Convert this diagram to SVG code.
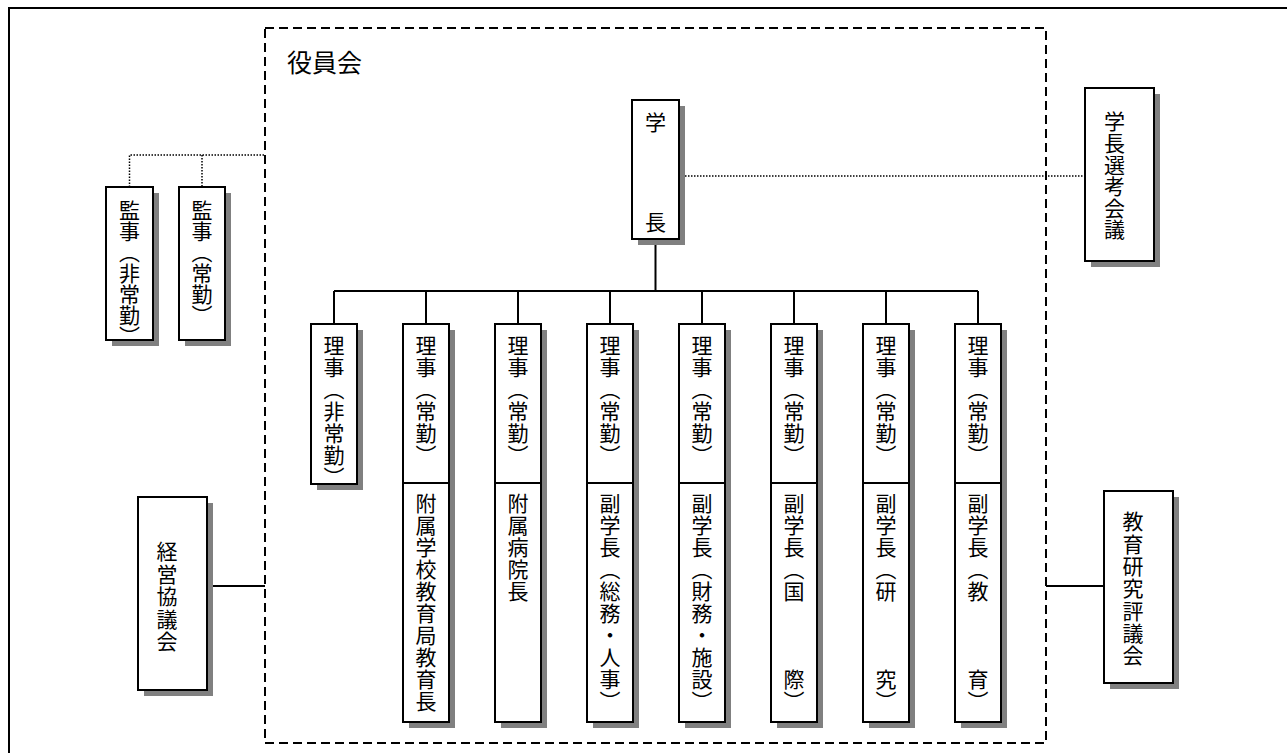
<svg xmlns="http://www.w3.org/2000/svg" width="1287" height="753" viewBox="0 0 1287 753">
<style>
.bx{fill:#fff;stroke:#000;stroke-width:2}
.sh{fill:#808080;stroke:none}
.ln{stroke:#000;stroke-width:2;fill:none}
.dot{stroke:#000;stroke-width:1.5;stroke-dasharray:1.5 1.5;fill:none}
.dash{stroke:#000;stroke-width:2;stroke-dasharray:9 5;fill:none}
text{font-family:"Noto Sans CJK JP","Noto Sans CJK SC",sans-serif;font-size:21px;fill:#000}
.v{writing-mode:vertical-rl;letter-spacing:1px}
</style>
<path class="ln" d="M9,753 V8 H1287" stroke-width="2.5"/>
<g id="yakuinkai">
<rect class="dash" x="265" y="28" width="781" height="715"/>
<text x="287" y="72" style="font-size:25px">役員会</text>
</g>
<g id="connectors">
<path class="ln" d="M655.5,239 V291 M334,291 H978 M334,291 V324 M426,291 V324 M518,291 V324 M610,291 V324 M702,291 V324 M794,291 V324 M886,291 V324 M978,291 V324"/>
<path class="dot" d="M685,176 H1085 M129.5,187 V155 H265 M202,155 V187"/>
<path class="ln" d="M207,586 H265 M1046,586 H1104"/>
</g>
<g id="gakucho">
<rect class="sh" x="638" y="106" width="47" height="139"/>
<rect class="bx" x="632" y="100" width="47" height="139"/>
<text x="655.5" y="130" text-anchor="middle">学</text>
<text x="655.5" y="230" text-anchor="middle">長</text>
</g>
<g id="senko">
<rect class="sh" x="1091" y="94" width="69" height="173"/>
<rect class="bx" x="1085" y="88" width="69" height="173"/>
<text class="v" x="1114.5" y="111" style="letter-spacing:0.6px">学長選考会議</text>
</g>
<g id="keiei">
<rect class="sh" x="144" y="503" width="69" height="193"/>
<rect class="bx" x="138" y="497" width="69" height="193"/>
<text class="v" x="167" y="541" style="letter-spacing:1.5px">経営協議会</text>
</g>
<g id="kyoiku">
<rect class="sh" x="1110" y="497" width="69" height="192"/>
<rect class="bx" x="1104" y="491" width="69" height="192"/>
<text class="v" x="1133" y="511" style="letter-spacing:1.3px">教育研究評議会</text>
</g>
<g id="kanji1">
<rect class="sh" x="112" y="193" width="47" height="153"/>
<rect class="bx" x="106" y="187" width="47" height="153"/>
<text class="v" x="129.5" y="199.5" style="letter-spacing:0">監事（非常勤）</text>
</g>
<g id="kanji2">
<rect class="sh" x="185" y="193" width="46" height="153"/>
<rect class="bx" x="179" y="187" width="46" height="153"/>
<text class="v" x="202" y="199.5" style="letter-spacing:0">監事（常勤）</text>
</g>
<g id="riji1">
<rect class="sh" x="317" y="330" width="46" height="160"/>
<rect class="bx" x="311" y="324" width="46" height="160"/>
<text class="v" x="334" y="335">理事（非常勤）</text>
</g>
<g id="riji2">
<rect class="sh" x="409" y="330" width="46" height="398"/>
<rect class="bx" x="403" y="324" width="46" height="159"/>
<rect class="bx" x="403" y="483" width="46" height="239"/>
<text class="v" x="426" y="335">理事（常勤）</text>
<text class="v" x="426" y="493">附属学校教育局教育長</text>
</g>
<g id="riji3">
<rect class="sh" x="501" y="330" width="46" height="398"/>
<rect class="bx" x="495" y="324" width="46" height="159"/>
<rect class="bx" x="495" y="483" width="46" height="239"/>
<text class="v" x="518" y="335">理事（常勤）</text>
<text class="v" x="518" y="493">附属病院長</text>
</g>
<g id="riji4">
<rect class="sh" x="593" y="330" width="46" height="398"/>
<rect class="bx" x="587" y="324" width="46" height="159"/>
<rect class="bx" x="587" y="483" width="46" height="239"/>
<text class="v" x="610" y="335">理事（常勤）</text>
<text class="v" x="610" y="493">副学長（総務・人事）</text>
</g>
<g id="riji5">
<rect class="sh" x="685" y="330" width="46" height="398"/>
<rect class="bx" x="679" y="324" width="46" height="159"/>
<rect class="bx" x="679" y="483" width="46" height="239"/>
<text class="v" x="702" y="335">理事（常勤）</text>
<text class="v" x="702" y="493">副学長（財務・施設）</text>
</g>
<g id="riji6">
<rect class="sh" x="777" y="330" width="46" height="398"/>
<rect class="bx" x="771" y="324" width="46" height="159"/>
<rect class="bx" x="771" y="483" width="46" height="239"/>
<text class="v" x="794" y="335">理事（常勤）</text>
<text class="v" x="794" y="493">副学長（国　　　際）</text>
</g>
<g id="riji7">
<rect class="sh" x="869" y="330" width="46" height="398"/>
<rect class="bx" x="863" y="324" width="46" height="159"/>
<rect class="bx" x="863" y="483" width="46" height="239"/>
<text class="v" x="886" y="335">理事（常勤）</text>
<text class="v" x="886" y="493">副学長（研　　　究）</text>
</g>
<g id="riji8">
<rect class="sh" x="961" y="330" width="46" height="398"/>
<rect class="bx" x="955" y="324" width="46" height="159"/>
<rect class="bx" x="955" y="483" width="46" height="239"/>
<text class="v" x="978" y="335">理事（常勤）</text>
<text class="v" x="978" y="493">副学長（教　　　育）</text>
</g>
</svg>
